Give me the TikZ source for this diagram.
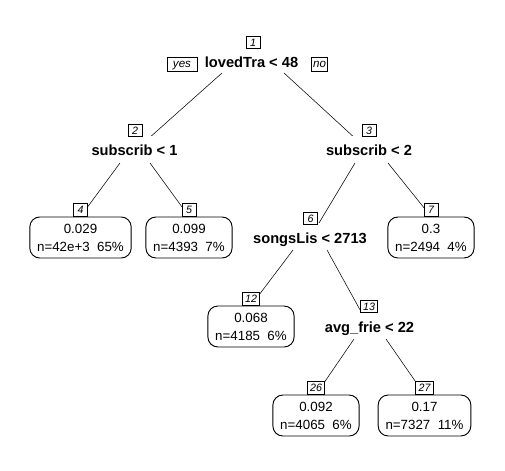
\documentclass[tikz,border=0pt]{standalone}
\usepackage{fontspec}
\setmainfont{Liberation Sans}
\usepackage{tikz}
\usetikzlibrary{positioning,backgrounds}
\tikzset{
	split/.style={anchor=base,fill=white,font=\fontsize{11}{13}\selectfont\bfseries,
		inner xsep=2pt,inner ysep=0pt,text height=14.75pt,text depth=0pt},
	leaf/.style={draw,fill=white,rounded corners=7.5pt,align=center,
		font=\fontsize{10}{13.5}\selectfont,inner xsep=5.5pt,minimum height=30.75pt},
	numbox/.style={draw,fill=white,font=\fontsize{8}{8}\selectfont\itshape,
		inner xsep=2.2pt,inner ysep=1.7pt,text height=6pt,text depth=0pt,minimum width=10.5pt},
	yesno/.style={draw,fill=white,font=\fontsize{8.7}{9}\selectfont\itshape,
		inner xsep=1.5pt,inner ysep=1.5pt,text height=6.3pt,text depth=1.9pt}
}

\begin{document}
\begin{tikzpicture}[x=0.75pt,y=-0.75pt,line width=0.7pt]
	\useasboundingbox (0,0) rectangle (505,470);
	% splits
	\node[split] (lab1) at (251.5,68) {lovedTra < 48};
	\node[split] (lab2) at (134.5,156) {subscrib < 1};
	\node[split] (lab3) at (369,156) {subscrib < 2};
	\node[split] (lab6) at (310,243) {songsLis < 2713};
	\node[split] (lab13) at (369.5,332) {avg\_frie < 22};
	% leaves
	\node[leaf] (leaf4) at (80.5,237.5) {0.029\\n=42e+3~~65\%};
	\node[leaf] (leaf5) at (189,237.5) {0.099\\n=4393~~7\%};
	\node[leaf] (leaf7) at (431,237.5) {0.3\\n=2494~~4\%};
	\node[leaf] (leaf12) at (251,326.5) {0.068\\n=4185~~6\%};
	\node[leaf] (leaf26) at (316,415.5) {0.092\\n=4065~~6\%};
	\node[leaf] (leaf27) at (424.5,415.5) {0.17\\n=7327~~11\%};
	% node numbers
	\node[numbox] (n1) at (253,42.5) {1};
	\node[numbox] (n2) at (135,130.5) {2};
	\node[numbox] (n3) at (369,130.5) {3};
	\node[numbox] (n6) at (310.5,218.5) {6};
	\node[numbox] (n13) at (369,306.5) {13};
	\node[numbox,above=0pt of leaf4] (n4) {4};
	\node[numbox,above=0pt of leaf5] (n5) {5};
	\node[numbox,above=0pt of leaf7] (n7) {7};
	\node[numbox,above=0pt of leaf12] (n12) {12};
	\node[numbox,above=0pt of leaf26] (n26) {26};
	\node[numbox,above=0pt of leaf27] (n27) {27};
	\node[yesno,minimum width=22.5pt] (yes) at (182,64.5) {yes};
	\node[yesno] (no) at (319.5,64.5) {no};
	% branches
	\begin{scope}[on background layer]
		\draw ([shift={(-29.5,5)}]lab1.base) -- ([shift={(0,-5)}]lab2.base);
		\draw ([shift={(32.5,5)}]lab1.base) -- ([shift={(0,-5)}]lab3.base);
		\draw ([shift={(-14.5,7)}]lab2.base) -- (leaf4.north);
		\draw ([shift={(15.5,7)}]lab2.base) -- (leaf5.north);
		\draw ([shift={(-14,7)}]lab3.base) -- ([shift={(0,-5)}]lab6.base);
		\draw ([shift={(19,7)}]lab3.base) -- (leaf7.north);
		\draw ([shift={(-17,7)}]lab6.base) -- (leaf12.north);
		\draw ([shift={(17,7)}]lab6.base) -- ([shift={(0,-5)}]lab13.base);
		\draw ([shift={(-15.5,7)}]lab13.base) -- (leaf26.north);
		\draw ([shift={(16.5,7)}]lab13.base) -- (leaf27.north);
	\end{scope}
\end{tikzpicture}
\end{document}
